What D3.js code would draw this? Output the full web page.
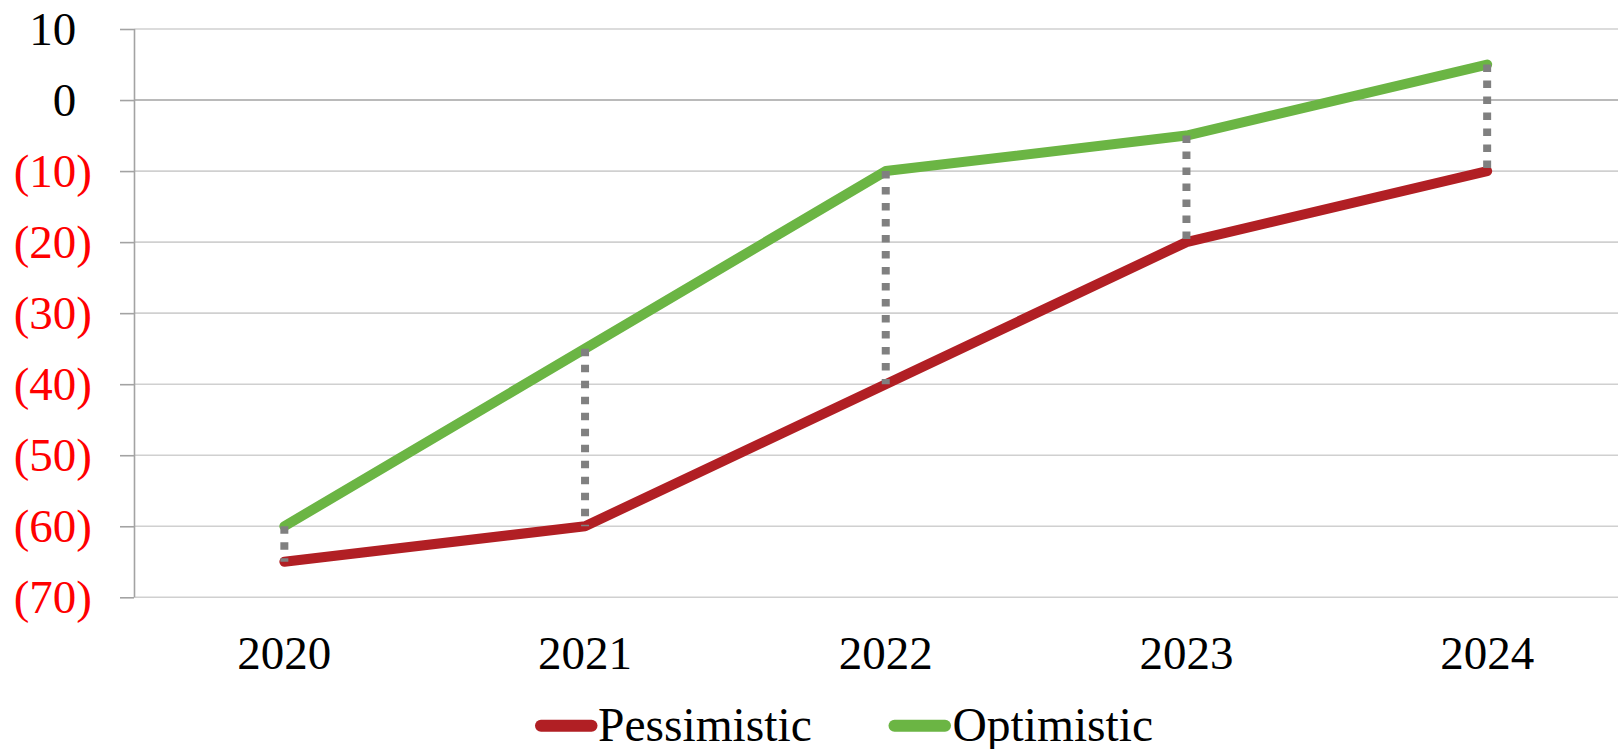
<!DOCTYPE html>
<html>
<head>
<meta charset="utf-8">
<script src="https://cdn.jsdelivr.net/npm/d3@7"></script>
<style>
  html, body { margin: 0; padding: 0; background: #ffffff; }
  svg { display: block; }
  text { font-family: "Liberation Serif", "Times New Roman", serif; }
</style>
</head>
<body>
<svg id="chart" width="1618" height="749"></svg>
<script>
// Scenario data
const years = ["2020", "2021", "2022", "2023", "2024"];
const pessimistic = [-65, -60, -40, -20, -10];
const optimistic = [-60, -35, -10, -5, 5];
const yTicks = [10, 0, -10, -20, -30, -40, -50, -60, -70];
const seriesNames = ["Pessimistic", "Optimistic"];
const seriesColors = ["#B11F24", "#6BB544"];

const svg = d3.select("#chart");
const W = 1618, H = 749;

const plot = { left: 134, right: 1637.5, top: 29, bottom: 597.3 };

const x = d3.scaleBand().domain(years).range([plot.left, plot.right]).padding(0);
const cx = d => x(d) + x.bandwidth() / 2;
const y = d3.scaleLinear().domain([-70, 10]).range([plot.bottom, plot.top]);

// Horizontal gridlines
svg.append("g")
  .selectAll("line")
  .data(yTicks)
  .join("line")
  .attr("x1", plot.left).attr("x2", W)
  .attr("y1", d => y(d)).attr("y2", d => y(d))
  .attr("stroke", d => d === 0 ? "#A3A3A3" : "#D0D0D0")
  .attr("stroke-width", 1.6);

// Value axis with accounting-style labels
const fmt = v => v < 0 ? "(" + Math.abs(v) + ")" : String(v);
const yAxis = svg.append("g")
  .attr("transform", `translate(${plot.left},0)`)
  .call(d3.axisLeft(y).tickValues(yTicks).tickSize(14).tickPadding(28).tickFormat(""));
yAxis.select(".domain").attr("stroke", "#A3A3A3").attr("stroke-width", 1.6)
  .attr("d", `M0.5,${plot.top}V${plot.bottom}`);
yAxis.selectAll(".tick line").attr("stroke", "#A3A3A3").attr("stroke-width", 1.6);
yAxis.selectAll(".tick text")
  .attr("font-size", 47)
  .attr("font-family", "Liberation Serif, Times New Roman, serif")
  .attr("fill", d => d < 0 ? "#FF0000" : "#000000")
  .attr("dy", "0.33em")
  .each(function(d) {
    const t = d3.select(this);
    t.append("tspan").text(fmt(d));
    if (d >= 0) t.append("tspan").attr("fill-opacity", 0).text(")");
  });

// Category labels
const xAxis = svg.append("g")
  .attr("transform", `translate(0,${plot.bottom})`)
  .call(d3.axisBottom(x).tickSize(0).tickPadding(0));
xAxis.select(".domain").remove();
xAxis.selectAll(".tick text")
  .attr("font-size", 47)
  .attr("font-family", "Liberation Serif, Times New Roman, serif")
  .attr("fill", "#000")
  .attr("y", 669 - plot.bottom)
  .attr("dy", 0);

// Series lines
const line = d3.line().x((d, i) => cx(years[i])).y(d => y(d));
[pessimistic, optimistic].forEach((vals, k) => {
  svg.append("path")
    .datum(vals)
    .attr("d", line)
    .attr("fill", "none")
    .attr("stroke", seriesColors[k])
    .attr("stroke-width", 10)
    .attr("stroke-linecap", "round")
    .attr("stroke-linejoin", "round");
});

// High-low drop lines between the scenarios
svg.append("g")
  .selectAll("line")
  .data(years)
  .join("line")
  .attr("x1", d => cx(d)).attr("x2", d => cx(d))
  .attr("y1", (d, i) => y(optimistic[i]))
  .attr("y2", (d, i) => y(pessimistic[i]))
  .attr("stroke", "#808080")
  .attr("stroke-width", 8)
  .attr("stroke-dasharray", "7.5,8.5");

// Legend
const legendItems = [
  { name: seriesNames[0], color: seriesColors[0], x0: 541, textX: 598 },
  { name: seriesNames[1], color: seriesColors[1], x0: 894.5, textX: 952.5 }
];
const lg = svg.append("g");
legendItems.forEach(it => {
  lg.append("line")
    .attr("x1", it.x0).attr("x2", it.x0 + 50.5)
    .attr("y1", 725.7).attr("y2", 725.7)
    .attr("stroke", it.color)
    .attr("stroke-width", 12)
    .attr("stroke-linecap", "round");
  lg.append("text")
    .attr("x", it.textX).attr("y", 740.5)
    .attr("font-size", 47.5)
    .attr("fill", "#000")
    .text(it.name);
});
</script>
</body>
</html>
